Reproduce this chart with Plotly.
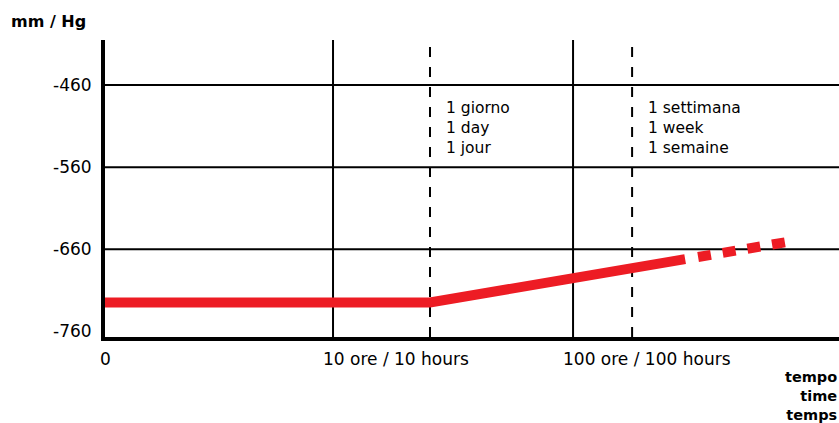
import plotly.graph_objects as go

# ---- data (x in log-like position units, y in mm/Hg) ----
x_solid = [0.0, 1.354, 2.417]
y_solid = [-725, -725, -672]
x_dashed = [2.471, 2.846]
y_dashed = [-669.5, -651]

y_ticks = [-460, -560, -660, -760]
y_grid = [-460, -560, -660]

x_tick_pos = [0.0, 0.95, 1.95]
x_tick_text = ["0", "10 ore / 10 hours", "100 ore / 100 hours"]
x_solid_vlines = [0.95, 1.95]
x_dashed_vlines = [1.354, 2.196]
marker_labels = ["1 giorno<br>1 day<br>1 jour", "1 settimana<br>1 week<br>1 semaine"]

RED = "#ED1C24"
FONT = "DejaVu Sans"

fig = go.Figure()
fig.add_trace(go.Scatter(x=x_solid, y=y_solid, mode="lines",
                         line=dict(color=RED, width=10), hoverinfo="skip"))
fig.add_trace(go.Scatter(x=x_dashed, y=y_dashed, mode="lines",
                         line=dict(color=RED, width=10, dash="13px,12px"), hoverinfo="skip"))

shapes = []
for yv in y_grid:
    shapes.append(dict(type="line", xref="paper", x0=0, x1=1, yref="y", y0=yv, y1=yv,
                       line=dict(color="black", width=2), layer="below"))
for xv in x_solid_vlines:
    shapes.append(dict(type="line", xref="x", x0=xv, x1=xv, yref="paper", y0=0, y1=1,
                       line=dict(color="black", width=2), layer="below"))
for xv in x_dashed_vlines:
    shapes.append(dict(type="line", xref="x", x0=xv, x1=xv, yref="paper", y0=0, y1=1,
                       line=dict(color="black", width=2, dash="10px,10px"), layer="below"))

annotations = []
for xv, txt in zip(x_tick_pos, x_tick_text):
    annotations.append(dict(x=xv, y=0, xref="x", yref="paper", text=txt, showarrow=False,
                            xanchor="center" if xv == 0 else "left",
                            xshift=0 if xv == 0 else -12,
                            yanchor="top", yshift=-10,
                            font=dict(family=FONT, size=17, color="black")))
for xv, txt in zip(x_dashed_vlines, marker_labels):
    annotations.append(dict(x=xv, y=1, xref="x", yref="paper", text=txt, showarrow=False,
                            xanchor="left", xshift=14, yanchor="top", yshift=-57, align="left",
                            font=dict(family=FONT, size=15.5, color="black")))
annotations.append(dict(x=0, y=1, xref="paper", yref="paper", text="<b>mm / Hg</b>",
                        showarrow=False, xanchor="left", xshift=-96, yanchor="bottom", yshift=7,
                        font=dict(family=FONT, size=16, color="black")))
annotations.append(dict(x=1, y=0, xref="paper", yref="paper",
                        text="<b>tempo<br>time<br>temps</b>", showarrow=False, align="right",
                        xanchor="right", xshift=0, yanchor="top", yshift=-30,
                        font=dict(family=FONT, size=14.5, color="black")))

fig.update_layout(
    width=839, height=423,
    margin=dict(l=105, r=0, t=40, b=86),
    paper_bgcolor="white", plot_bgcolor="white",
    showlegend=False,
    shapes=shapes, annotations=annotations,
    xaxis=dict(range=[0, 3.058], showgrid=False, zeroline=False, showticklabels=False,
               ticks="", showline=True, linecolor="black", linewidth=4, fixedrange=True),
    yaxis=dict(range=[-767, -405], tickvals=y_ticks, ticktext=[str(v) for v in y_ticks],
               showgrid=False, zeroline=False, ticks="", showline=True, linecolor="black",
               linewidth=4, ticklabelstandoff=6,
               tickfont=dict(family=FONT, size=17, color="black"), fixedrange=True),
    font=dict(family=FONT, color="black"),
)

fig.write_html("out.html", config={"displayModeBar": False},
               post_script="document.body.style.margin='0';document.body.style.overflow='hidden';")
